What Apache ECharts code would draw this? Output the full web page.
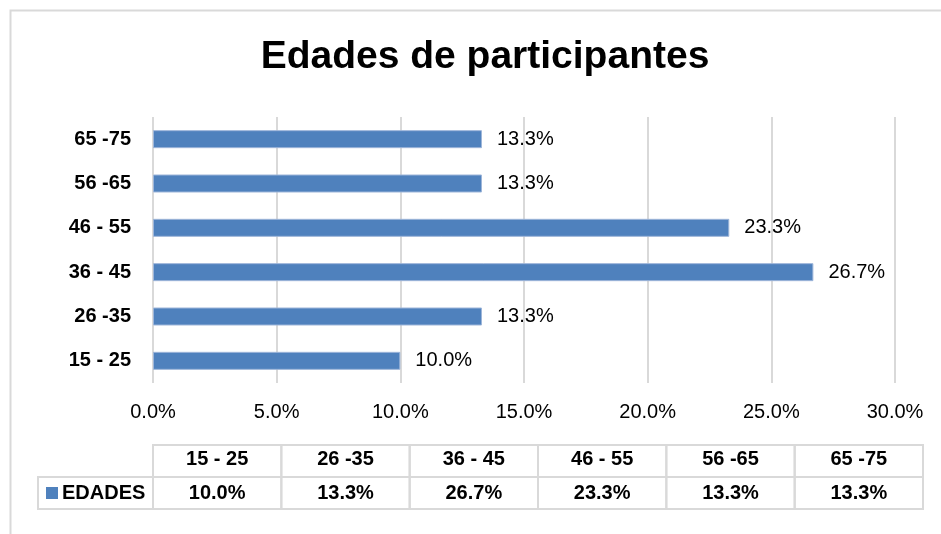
<!DOCTYPE html>
<html>
<head>
<meta charset="utf-8">
<script src="https://cdn.jsdelivr.net/npm/echarts@6/dist/echarts.min.js"></script>
<style>
  html, body { margin: 0; padding: 0; background: #fff; }
  #main { width: 941px; height: 534px; }
</style>
</head>
<body>
<div id="main"></div>
<script>
// rangos de edad y porcentajes
const categories = ['15 - 25', '26 -35', '36 - 45', '46 - 55', '56 -65', '65 -75']
const edades = [0.100, 0.133, 0.267, 0.233, 0.133, 0.133]
const tickValues = [0, 0.05, 0.10, 0.15, 0.20, 0.25, 0.30]

const font = "'Liberation Sans', Arial, sans-serif"
const pct = (v) => (v * 100).toFixed(1) + '%'

const chart = echarts.init(document.getElementById('main'))

const option = {
  animation: false,
  backgroundColor: '#fff',
  title: {
    text: 'Edades de participantes',
    left: 480,
    top: 33,
    textAlign: 'center',
    textStyle: { fontFamily: font, fontWeight: 'bold', fontSize: 39, color: '#000' }
  },
  legend: {
    data: ['EDADES'],
    left: 46,
    top: 483,
    padding: 0,
    icon: 'rect',
    itemWidth: 12,
    itemHeight: 12,
    itemGap: 5,
    selectedMode: false,
    itemStyle: { borderWidth: 0 },
    textStyle: { fontFamily: font, fontWeight: 'bold', fontSize: 20, color: '#000', padding: [0, 0, 0, -1] }
  },
  grid: [
    { left: 153, right: 46, top: 117, bottom: 151 },
    { left: 153, right: 18, top: 445, bottom: 25 }
  ],
  xAxis: [
    {
      type: 'value',
      gridIndex: 0,
      min: tickValues[0],
      max: tickValues[tickValues.length - 1],
      interval: 0.05,
      axisLine: { show: false },
      axisTick: { show: false },
      splitLine: { lineStyle: { color: '#d9d9d9', width: 2 } },
      axisLabel: { margin: 19, fontFamily: font, fontSize: 20, color: '#000', formatter: pct }
    },
    { type: 'category', gridIndex: 1, data: categories, show: false }
  ],
  yAxis: [
    {
      type: 'category',
      gridIndex: 0,
      data: categories,
      axisLine: { show: false },
      axisTick: { show: false },
      axisLabel: { margin: 22, fontFamily: font, fontWeight: 'bold', fontSize: 20, color: '#000' }
    },
    { type: 'category', gridIndex: 1, data: ['rango', 'EDADES'], inverse: true, show: false }
  ],
  series: [
    {
      name: 'EDADES',
      type: 'bar',
      xAxisIndex: 0,
      yAxisIndex: 0,
      data: edades,
      barWidth: 18,
      itemStyle: { color: '#4f81bd', borderColor: '#9db5d9', borderWidth: 1 },
      label: {
        show: true,
        position: 'right',
        distance: 15,
        fontFamily: font,
        fontSize: 20,
        color: '#000',
        formatter: (p) => pct(p.value)
      }
    },
    {
      // tabla de datos debajo del grafico
      name: 'tabla',
      type: 'custom',
      xAxisIndex: 1,
      yAxisIndex: 1,
      data: edades.map((v, i) => [i, 1, v]),
      renderItem: (params, api) => {
        const i = api.value(0)
        const size = api.size([1, 1])
        const head = api.coord([i, 0])
        const row = api.coord([i, 1])
        const w = size[0]
        const h = size[1]
        const line = { stroke: '#d9d9d9', lineWidth: 2, fill: null }
        const children = [
          { type: 'rect', shape: { x: head[0] - w / 2, y: head[1] - h / 2, width: w, height: h }, style: line },
          { type: 'rect', shape: { x: row[0] - w / 2, y: row[1] - h / 2, width: w, height: h }, style: line },
          {
            type: 'text',
            style: {
              x: head[0], y: head[1] - 2, text: categories[i], align: 'center', verticalAlign: 'middle',
              font: 'bold 20px ' + font, fill: '#000'
            }
          },
          {
            type: 'text',
            style: {
              x: row[0], y: row[1], text: pct(api.value(2)), align: 'center', verticalAlign: 'middle',
              font: 'bold 20px ' + font, fill: '#000'
            }
          }
        ]
        if (i === 0) {
          children.push({ type: 'rect', shape: { x: row[0] - w / 2 - 115, y: row[1] - h / 2, width: 115, height: h }, style: line })
        }
        return { type: 'group', children: children }
      },
      z: 1
    }
  ],
  graphic: [
    {
      type: 'rect',
      left: 8,
      top: 8,
      shape: { width: 1000, height: 1000 },
      style: { stroke: '#d9d9d9', lineWidth: 2, fill: null },
      silent: true,
      z: -1
    }
  ]
}

chart.setOption(option)
</script>
</body>
</html>
